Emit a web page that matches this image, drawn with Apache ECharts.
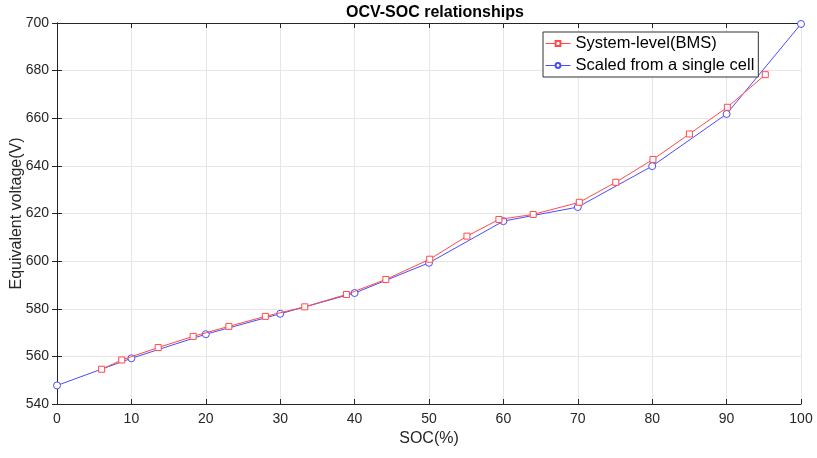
<!DOCTYPE html>
<html>
<head>
<meta charset="utf-8">
<script src="https://cdn.jsdelivr.net/npm/echarts@6/dist/echarts.min.js"></script>
<style>
  html, body { margin: 0; padding: 0; background: #fff; }
  #chart { width: 817px; height: 458px; }
</style>
</head>
<body>
<div id="chart"></div>
<script>
// values
const bmsSoc = [6, 8.7, 13.6, 18.3, 23.1, 28, 33.3, 38.9, 44.2, 50.1, 55.1, 59.4, 64, 70.2, 75.1, 80.1, 85, 90.1, 95.2];
const bmsVolt = [554.6, 558.5, 563.7, 568.4, 572.6, 576.8, 580.8, 586, 592.3, 600.8, 610.5, 617.5, 619.6, 624.7, 633.1, 642.7, 653.4, 664.6, 678.3];
const cellSoc = [0, 10, 20, 30, 40, 50, 60, 70, 80, 90, 100];
const cellVolt = [547.8, 559.2, 569.3, 577.9, 586.6, 599.3, 616.8, 622.7, 639.9, 661.8, 699.6];

const SERIES_NAMES = ['System-level(BMS)', 'Scaled from a single cell'];
const C = { axis: '#262626', grid: '#e6e6e6', red: '#ff4a4a', blue: '#4a4aff' };
const FONT = '"Liberation Sans", Arial, sans-serif';

const zip = (xs, ys) => xs.map((x, i) => [x, ys[i]]);

function axisX(showLabels, position) {
  return {
    type: 'value', min: 0, max: 100, interval: 10, position,
    name: showLabels ? 'SOC(%)' : '', nameLocation: 'middle', nameGap: 27, nameMoveOverlap: false,
    nameTextStyle: { color: C.axis, fontSize: 16, fontFamily: FONT },
    axisLine: { show: true, lineStyle: { color: C.axis } },
    axisTick: { show: true, inside: true, length: 5, lineStyle: { color: C.axis } },
    axisLabel: { show: showLabels, color: C.axis, fontSize: 14, fontFamily: FONT, margin: 8 },
    splitLine: { show: showLabels, lineStyle: { color: C.grid } },
  };
}

function axisY(showLabels, position) {
  return {
    type: 'value', min: 540, max: 700, interval: 20, position,
    name: showLabels ? 'Equivalent voltage(V)' : '', nameLocation: 'middle', nameGap: 32, nameMoveOverlap: false,
    nameTextStyle: { color: C.axis, fontSize: 16, fontFamily: FONT },
    axisLine: { show: true, lineStyle: { color: C.axis } },
    axisTick: { show: true, inside: true, length: 5, lineStyle: { color: C.axis } },
    axisLabel: { show: showLabels, color: C.axis, fontSize: 14, fontFamily: FONT, margin: 8 },
    splitLine: { show: showLabels, lineStyle: { color: C.grid } },
  };
}

const chart = echarts.init(document.getElementById('chart'), null, { renderer: 'canvas' });
chart.setOption({
  backgroundColor: '#fff',
  animation: false,
  title: {
    text: 'OCV-SOC relationships', left: 341, top: 0,
    textStyle: { color: '#000', fontSize: 16, fontWeight: 'bold', fontFamily: FONT },
  },
  grid: { left: 57, right: 16, top: 23, bottom: 54, containLabel: false, outerBoundsMode: 'none' },
  xAxis: [axisX(true, 'bottom'), axisX(false, 'top')],
  yAxis: [axisY(true, 'left'), axisY(false, 'right')],
  legend: {
    left: 543, top: 32, orient: 'vertical',
    itemWidth: 25, itemHeight: 6, itemGap: 5,
    padding: [3, 4, 3, 2],
    borderColor: '#333', borderWidth: 1, borderRadius: 0, backgroundColor: '#fff',
    lineStyle: { width: 1 },
    textStyle: { color: '#000', fontSize: 16.5, fontFamily: FONT },
    data: SERIES_NAMES,
  },
  series: [
    {
      name: SERIES_NAMES[0], type: 'line', data: zip(bmsSoc, bmsVolt),
      symbol: 'rect', symbolSize: 6, showAllSymbol: true,
      itemStyle: { color: '#fff', borderColor: C.red, borderWidth: 1 },
      lineStyle: { color: C.red, width: 1 },
      z: 3,
    },
    {
      name: SERIES_NAMES[1], type: 'line', data: zip(cellSoc, cellVolt),
      symbol: 'circle', symbolSize: 7, showAllSymbol: true,
      itemStyle: { color: '#fff', borderColor: C.blue, borderWidth: 1 },
      lineStyle: { color: C.blue, width: 1 },
      z: 2,
    },
  ],
});
</script>
</body>
</html>
